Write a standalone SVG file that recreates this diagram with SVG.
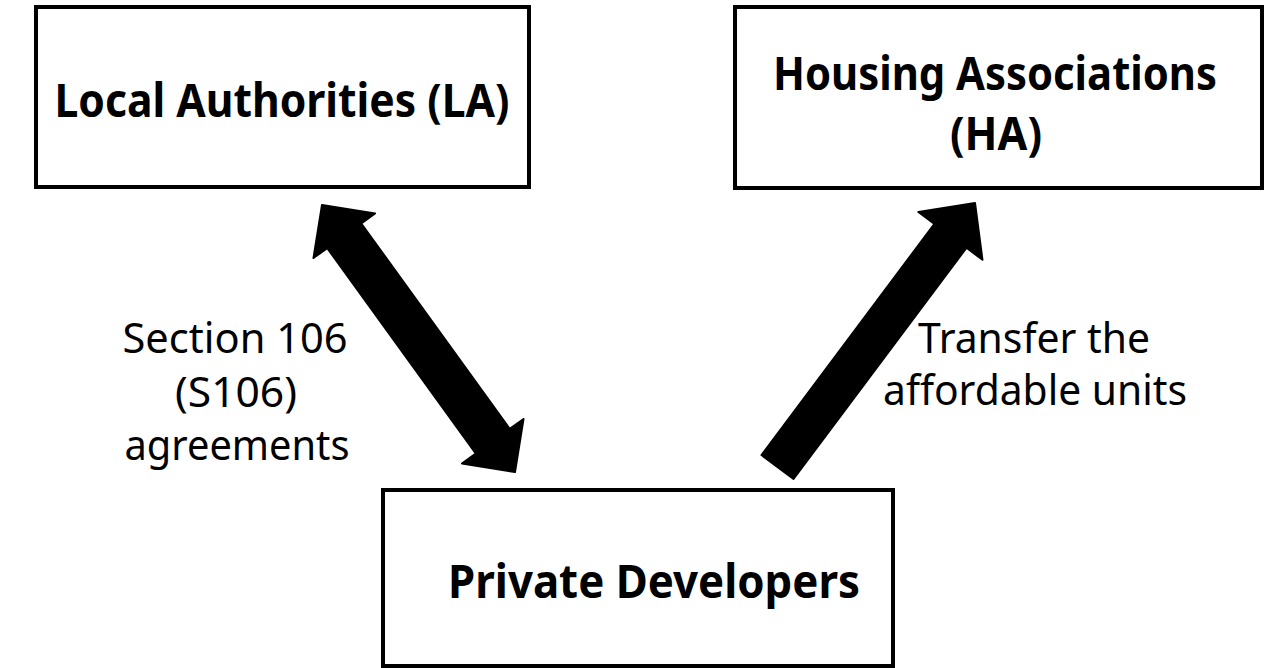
<svg xmlns="http://www.w3.org/2000/svg" width="1264" height="668" viewBox="0 0 1264 668">
<style>
.box{fill:#fff;stroke:#000;stroke-width:4}
.t{font-family:"Noto Sans","Open Sans","Liberation Sans",sans-serif;font-weight:bold;font-size:46px;fill:#000;text-anchor:middle}
.l{font-family:"Noto Sans","Open Sans","Liberation Sans",sans-serif;font-size:42px;fill:#000;text-anchor:middle}
.arr{fill:#000;stroke:#000;stroke-width:2;stroke-linejoin:round}
</style>
<rect width="1264" height="668" fill="#fff"/>
<g id="connectors">
<polygon class="arr" points="322,205 375.06,213.54 361.28,223.5 509.76,428.9 523.54,418.94 515,472 461.94,463.46 475.72,453.5 327.24,248.1 313.46,258.06"/>
<polygon class="arr" points="975,203 982.48,259.8 966.46,247.82 793.52,478.98 761.48,455.02 934.42,223.86 918.4,211.88"/>
</g>
<g id="node-la">
<rect class="box" x="36" y="7" width="493" height="180"/>
<text class="t" x="282" y="117" textLength="455" lengthAdjust="spacingAndGlyphs">Local Authorities (LA)</text>
</g>
<g id="node-ha">
<rect class="box" x="735" y="7" width="527" height="181"/>
<text class="t" x="995" y="90" textLength="444" lengthAdjust="spacingAndGlyphs">Housing Associations</text>
<text class="t" x="996" y="150" textLength="92" lengthAdjust="spacingAndGlyphs">(HA)</text>
</g>
<g id="node-pd">
<rect class="box" x="383" y="490" width="510" height="176"/>
<text class="t" x="654" y="598" textLength="412" lengthAdjust="spacingAndGlyphs">Private Developers</text>
</g>
<g id="label-s106">
<text class="l" x="235" y="353" textLength="225" lengthAdjust="spacingAndGlyphs">Section 106</text>
<text class="l" x="236" y="407" textLength="122" lengthAdjust="spacingAndGlyphs">(S106)</text>
<text class="l" x="237" y="460" textLength="225" lengthAdjust="spacingAndGlyphs">agreements</text>
</g>
<g id="label-transfer">
<text class="l" x="1034" y="353" textLength="232" lengthAdjust="spacingAndGlyphs">Transfer the</text>
<text class="l" x="1035" y="405" textLength="304" lengthAdjust="spacingAndGlyphs">affordable units</text>
</g>
</svg>
